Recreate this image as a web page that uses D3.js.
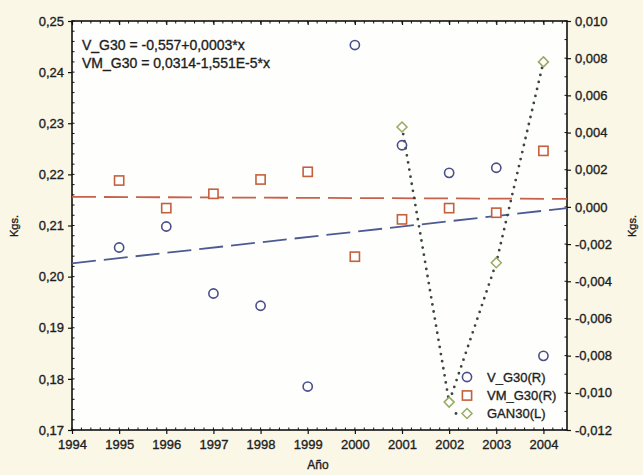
<!DOCTYPE html>
<html>
<head>
<meta charset="utf-8">
<script src="https://cdn.jsdelivr.net/npm/d3@7"></script>
<style>
  html, body { margin: 0; padding: 0; background: #faf7e6; }
  svg { display: block; }
  text { font-family: "Liberation Sans", Arial, sans-serif; fill: #1e1e1e; stroke: #1e1e1e; stroke-width: 0.35px; }
</style>
</head>
<body>
<svg id="chart" width="643" height="475"></svg>
<script>
// Yearly series (left axis, Kgs.)
const years = [1995, 1996, 1997, 1998, 1999, 2000, 2001, 2002, 2003, 2004];
const vG30  = [0.2057, 0.2098, 0.1967, 0.1943, 0.1785, 0.2453, 0.2257, 0.2203, 0.2213, 0.1845];
const vmG30 = [0.2188, 0.2134, 0.2162, 0.2190, 0.2205, 0.2039, 0.2112, 0.2134, 0.2125, 0.2246];

// Gain series (right axis, Kgs.)
const ganYears = [2001, 2002, 2003, 2004];
const gan30    = [0.0043, -0.0105, -0.0030, 0.0078];

// Linear fits, evaluated at the ends of the year axis
const fitYears = [1994, 2004.5];
const fitV     = [0.2026, 0.2134];
const fitVM    = [0.2156, 0.2152];

// Tick values and text
const xTicks = [1994, 1995, 1996, 1997, 1998, 1999, 2000, 2001, 2002, 2003, 2004];
const leftTicks = [0.17, 0.18, 0.19, 0.20, 0.21, 0.22, 0.23, 0.24, 0.25];
const rightTicks = [-0.012, -0.010, -0.008, -0.006, -0.004, -0.002, 0.000, 0.002, 0.004, 0.006, 0.008, 0.010];
const equations = ["V_G30 = -0,557+0,0003*x", "VM_G30 = 0,0314-1,551E-5*x"];
const legendLabels = ["V_G30(R)", "VM_G30(R)", "GAN30(L)"];

const locale = d3.formatLocale({decimal: ",", thousands: ".", grouping: [3], currency: ["", ""], minus: "-"});
const f2 = locale.format(".2f"), f3 = locale.format(".3f");

const C = {
  circle: "#4a4f8a", square: "#c4603e", diamond: "#97ab62",
  fitV: "#4d5b92", fitVM: "#c8614b", dots: "#3b463f", axis: "#111"
};

const svg = d3.select("#chart");
const L = 72, R = 567, T = 21, B = 430;

const x  = d3.scaleLinear().domain([1994, 2004.5]).range([L, R]);
const yL = d3.scaleLinear().domain([0.17, 0.25]).range([B, T]);
const yR = d3.scaleLinear().domain([-0.012, 0.010]).range([B, T]);

// plot background
svg.append("rect").attr("x", L).attr("y", T).attr("width", R - L).attr("height", B - T)
  .attr("fill", "#fefefc");

// minor ticks (inside the frame)
const g = svg.append("g").attr("stroke", C.axis).attr("stroke-width", 1);
d3.range(1994, 2004.51, 0.2).forEach(v => {
  const px = x(v);
  g.append("line").attr("x1", px).attr("x2", px).attr("y1", B).attr("y2", B - 2.5);
  g.append("line").attr("x1", px).attr("x2", px).attr("y1", T).attr("y2", T + 2.5);
});
d3.range(0.17, 0.2501, 0.002).forEach(v => {
  const py = yL(v);
  g.append("line").attr("x1", L).attr("x2", L + 2.5).attr("y1", py).attr("y2", py);
});
d3.range(-0.012, 0.01001, 0.001).forEach(v => {
  const py = yR(v);
  g.append("line").attr("x1", R).attr("x2", R - 2.5).attr("y1", py).attr("y2", py);
});

// axes
const fontSize = "13px";
const axB = svg.append("g").attr("transform", `translate(0,${B})`)
  .call(d3.axisBottom(x).tickValues(xTicks).tickFormat(d3.format("d")).tickSize(4).tickPadding(6));
const axT = svg.append("g").attr("transform", `translate(0,${T})`)
  .call(d3.axisTop(x).tickValues(xTicks).tickFormat("").tickSizeInner(-4).tickSizeOuter(0));
const axL = svg.append("g").attr("transform", `translate(${L},0)`)
  .call(d3.axisLeft(yL).tickValues(leftTicks).tickFormat(f2).tickSize(4).tickPadding(4));
const axR = svg.append("g").attr("transform", `translate(${R},0)`)
  .call(d3.axisRight(yR).tickValues(rightTicks).tickFormat(f3).tickSize(4).tickPadding(4));
[axB, axT, axL, axR].forEach(a => {
  a.select(".domain").remove();
  a.selectAll(".tick line").attr("stroke", C.axis).attr("stroke-width", 1.2);
  a.selectAll(".tick text").attr("font-size", fontSize)
    .attr("font-family", "Liberation Sans, Arial, sans-serif")
    .attr("fill", "#1e1e1e").attr("stroke", "#1e1e1e").attr("stroke-width", 0.4);
});

// frame
svg.append("rect").attr("x", L).attr("y", T).attr("width", R - L).attr("height", B - T)
  .attr("fill", "none").attr("stroke", C.axis).attr("stroke-width", 1.6);

// fit lines
svg.append("path")
  .datum(fitYears.map((yr, i) => [yr, fitVM[i]]))
  .attr("d", d3.line().x(d => x(d[0])).y(d => yL(d[1])))
  .attr("fill", "none").attr("stroke", C.fitVM).attr("stroke-width", 1.8)
  .attr("stroke-dasharray", "24,8");
svg.append("path")
  .datum(fitYears.map((yr, i) => [yr, fitV[i]]))
  .attr("d", d3.line().x(d => x(d[0])).y(d => yL(d[1])))
  .attr("fill", "none").attr("stroke", C.fitV).attr("stroke-width", 1.8)
  .attr("stroke-dasharray", "24,8");

// gain series, dotted
svg.append("path")
  .datum(ganYears.map((yr, i) => [yr, gan30[i]]))
  .attr("d", d3.line().x(d => x(d[0])).y(d => yR(d[1])))
  .attr("fill", "none").attr("stroke", C.dots).attr("stroke-width", 2.8)
  .attr("stroke-linecap", "round").attr("stroke-dasharray", "0,7.2");

// markers
const diamond = (cx, cy, r) => `M${cx},${cy - r}L${cx + r},${cy}L${cx},${cy + r}L${cx - r},${cy}Z`;

svg.append("g").selectAll("circle").data(years.map((yr, i) => [yr, vG30[i]])).join("circle")
  .attr("cx", d => x(d[0])).attr("cy", d => yL(d[1])).attr("r", 4.6)
  .attr("fill", "none").attr("stroke", C.circle).attr("stroke-width", 1.6);

svg.append("g").selectAll("rect").data(years.map((yr, i) => [yr, vmG30[i]])).join("rect")
  .attr("x", d => x(d[0]) - 4.6).attr("y", d => yL(d[1]) - 4.6)
  .attr("width", 9.2).attr("height", 9.2)
  .attr("fill", "#fff").attr("stroke", C.square).attr("stroke-width", 1.6);

svg.append("g").selectAll("path").data(ganYears.map((yr, i) => [yr, gan30[i]])).join("path")
  .attr("d", d => diamond(x(d[0]), yR(d[1]), 5))
  .attr("fill", "#fff").attr("stroke", C.diamond).attr("stroke-width", 1.5);

// equations
svg.append("g").selectAll("text").data(equations).join("text")
  .attr("x", 82).attr("y", (d, i) => 50 + i * 18)
  .attr("font-size", "14px").text(d => d);

// legend
const lg = svg.append("g");
const lx = 467, ly = [377, 395.5, 413.5];
lg.append("circle").attr("cx", lx).attr("cy", ly[0]).attr("r", 4.6)
  .attr("fill", "#fff").attr("stroke", C.circle).attr("stroke-width", 1.6);
lg.append("rect").attr("x", lx - 4.6).attr("y", ly[1] - 4.6).attr("width", 9.2).attr("height", 9.2)
  .attr("fill", "#fff").attr("stroke", C.square).attr("stroke-width", 1.6);
lg.append("line").attr("x1", lx - 11).attr("x2", lx + 12).attr("y1", ly[2]).attr("y2", ly[2])
  .attr("stroke", C.dots).attr("stroke-width", 2.8).attr("stroke-linecap", "round")
  .attr("stroke-dasharray", "0,23");
lg.append("path").attr("d", diamond(lx, ly[2], 5))
  .attr("fill", "#fff").attr("stroke", C.diamond).attr("stroke-width", 1.5);
lg.selectAll("text").data(legendLabels).join("text")
  .attr("x", 487).attr("y", (d, i) => ly[i]).attr("dy", "0.35em")
  .attr("font-size", "13px").text(d => d);

// axis titles
svg.append("text").attr("transform", "translate(18,226) rotate(-90)")
  .attr("text-anchor", "middle").attr("font-size", "11px").text("Kgs.");
svg.append("text").attr("transform", "translate(636,226) rotate(-90)")
  .attr("text-anchor", "middle").attr("font-size", "11px").text("Kgs.");
svg.append("text").attr("x", 318).attr("y", 469)
  .attr("text-anchor", "middle").attr("font-size", "12px").text("Año");
</script>
</body>
</html>
